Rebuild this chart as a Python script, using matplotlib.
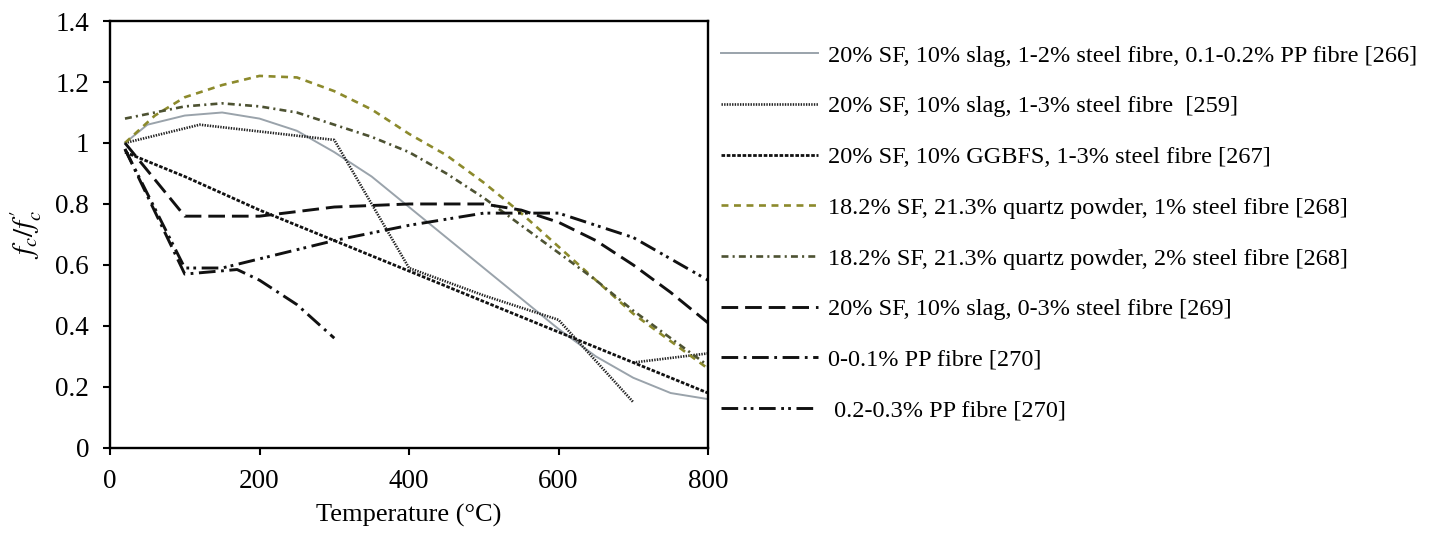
import matplotlib
matplotlib.use('Agg')
import matplotlib.pyplot as plt

plt.rcParams['font.family'] = ['Liberation Serif', 'DejaVu Serif']
plt.rcParams['mathtext.fontset'] = 'stix'
plt.rcParams['lines.scale_dashes'] = False

# temperature (°C) and relative compressive strength f_c/f'_c
t_266 = [20, 50, 100, 150, 200, 250, 300, 350, 400, 450, 500, 550, 600, 650, 700, 750, 800]
v_266 = [1.0, 1.06, 1.09, 1.10, 1.08, 1.04, 0.97, 0.89, 0.79, 0.69, 0.59, 0.49, 0.39, 0.30, 0.23, 0.18, 0.16]

t_259 = [20, 120, 300, 400, 500, 600, 700]
v_259 = [1.0, 1.06, 1.01, 0.59, 0.50, 0.42, 0.15]
t_259b = [700, 800]
v_259b = [0.28, 0.31]

t_267 = [20, 100, 200, 300, 400, 500, 600, 700, 800]
v_267 = [0.97, 0.89, 0.78, 0.68, 0.58, 0.48, 0.38, 0.28, 0.18]

t_268a = [20, 60, 100, 150, 200, 250, 300, 350, 400, 450, 500, 550, 600, 650, 700, 750, 800]
v_268a = [1.0, 1.09, 1.15, 1.19, 1.22, 1.215, 1.17, 1.11, 1.03, 0.96, 0.87, 0.77, 0.66, 0.55, 0.44, 0.35, 0.26]

t_268b = [20, 100, 150, 200, 250, 300, 350, 400, 450, 500, 550, 600, 650, 700, 750, 800]
v_268b = [1.08, 1.12, 1.13, 1.12, 1.10, 1.06, 1.02, 0.97, 0.90, 0.82, 0.73, 0.64, 0.55, 0.45, 0.36, 0.27]

t_269 = [20, 100, 200, 300, 400, 500, 550, 600, 650, 700, 750, 800]
v_269 = [1.0, 0.76, 0.76, 0.79, 0.80, 0.80, 0.78, 0.74, 0.68, 0.60, 0.51, 0.41]

t_270a = [20, 100, 170, 200, 250, 300]
v_270a = [0.98, 0.57, 0.585, 0.55, 0.47, 0.36]

t_270b = [20, 100, 150, 200, 300, 400, 500, 600, 700, 800]
v_270b = [0.98, 0.59, 0.59, 0.62, 0.68, 0.73, 0.77, 0.77, 0.69, 0.55]

labels = [
    '20% SF, 10% slag, 1-2% steel fibre, 0.1-0.2% PP fibre [266]',
    '20% SF, 10% slag, 1-3% steel fibre  [259]',
    '20% SF, 10% GGBFS, 1-3% steel fibre [267]',
    '18.2% SF, 21.3% quartz powder, 1% steel fibre [268]',
    '18.2% SF, 21.3% quartz powder, 2% steel fibre [268]',
    '20% SF, 10% slag, 0-3% steel fibre [269]',
    '0-0.1% PP fibre [270]',
    ' 0.2-0.3% PP fibre [270]',
]

fig = plt.figure(figsize=(14.42, 5.39), dpi=100)
ax = fig.add_axes([0.0763, 0.169, 0.4147, 0.792])

lw = 1.7
ax.plot(t_266, v_266, color='#9aa3ab', lw=1.4, label=labels[0])
ax.plot(t_259, v_259, color='#222222', lw=lw + 0.2, dashes=(1.0, 0.9), label=labels[1])
ax.plot(t_259b, v_259b, color='#222222', lw=lw + 0.2, dashes=(1.0, 0.9))
ax.plot(t_267, v_267, color='#111111', lw=lw + 0.3, dashes=(2.6, 1.2), label=labels[2])
ax.plot(t_268a, v_268a, color='#8c8a2c', lw=lw + 0.2, dashes=(5, 4), label=labels[3])
ax.plot(t_268b, v_268b, color='#4d5232', lw=lw + 0.2, dashes=(5, 3, 1.5, 3), label=labels[4])
ax.plot(t_269, v_269, color='#111111', lw=lw + 0.4, dashes=(12, 5), label=labels[5])
ax.plot(t_270a, v_270a, color='#111111', lw=lw + 0.4, dashes=(12, 4, 2, 4), label=labels[6])
ax.plot(t_270b, v_270b, color='#111111', lw=lw + 0.4, dashes=(12, 4, 2, 3, 2, 4), label=labels[7])

ax.set_xlim(0, 800)
ax.set_ylim(0, 1.4)
ax.set_xticks([0, 200, 400, 600, 800])
ax.set_yticks([0, 0.2, 0.4, 0.6, 0.8, 1.0, 1.2, 1.4])
ax.set_yticklabels(['0', '0.2', '0.4', '0.6', '0.8', '1', '1.2', '1.4'])
ax.tick_params(direction='out', length=5, width=1.5, labelsize=19.5, pad=10)
for s in ax.spines.values():
    s.set_linewidth(1.7)
ax.set_xlabel('Temperature (°C)', fontsize=19, labelpad=7)
ax.set_ylabel(r"$f_c/f_c^{\prime}$", fontsize=21, labelpad=8)

fig.legend(loc='upper left', bbox_to_anchor=(0.5, 0.917), frameon=False,
           fontsize=17.5, handlelength=4.0, handletextpad=0.41,
           labelspacing=1.18, borderpad=0, borderaxespad=0)

fig.savefig('out.png', dpi=100)
